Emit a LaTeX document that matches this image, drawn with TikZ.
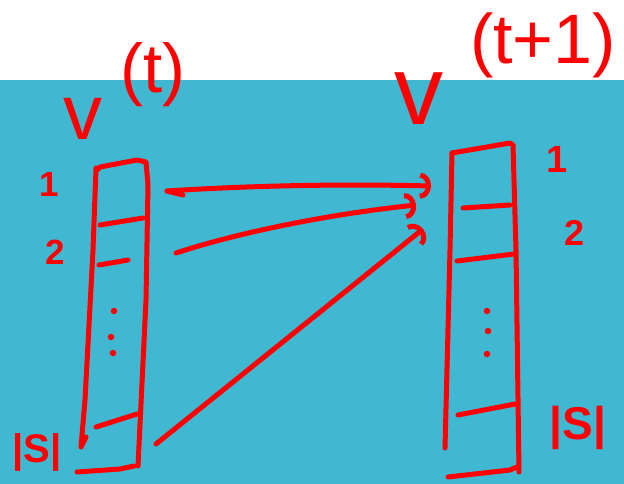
\documentclass[tikz,border=0pt]{standalone}
\usepackage{fontspec}
\setmainfont{Liberation Sans}
\usetikzlibrary{arrows.meta}
\definecolor{bgblue}{RGB}{65,184,209}
\definecolor{pen}{RGB}{255,0,0}
\begin{document}
\begin{tikzpicture}[x=1pt,y=-1pt,
  ink/.style={draw=pen,line width=5pt,line cap=round,line join=round},
  dotmark/.style={fill=pen,circle,inner sep=0pt,minimum size=6.5pt},
  lab/.style={text=pen,inner sep=0pt},
  conn/.style={ink,-{Arc Barb[length=11pt,width=26pt]}}]
\useasboundingbox (0,0) rectangle (624,484);
\fill[white] (0,0) rectangle (624,80);
\fill[bgblue] (0,80) rectangle (624,484);

% ---- headings
\node[lab,font=\fontsize{78}{78}\selectfont] (vl) at (83,119) {v};
\node[lab,font=\fontsize{69}{69}\selectfont] (tl) at (153,75) {(t)};
\node[lab,font=\fontsize{98}{98}\selectfont] (vr) at (419,99) {v};
\node[lab,font=\fontsize{70}{70}\selectfont] (tr) at (543,45) {(t+1)};

% ---- left vector
\draw[ink] (97,170) -- (100,167) -- (137,160) -- (146,162) -- (148,185) -- (146,300) -- (138,466);
\draw[ink] (96,168) -- (93,250) -- (85,400) -- (81,447) -- (86,437);
\draw[ink] (77,472) -- (120,469) -- (134,466);
\draw[ink] (100,225) -- (143,218);
\draw[ink] (99,265) -- (128,260);
\draw[ink] (96,427) -- (137,414);
\node[dotmark] (ld1) at (114,311) {};
\node[dotmark] (ld2) at (111,337) {};
\node[dotmark] (ld3) at (113,353) {};
\node[lab,font=\bfseries\fontsize{35}{35}\selectfont] (l1) at (49,184) {1};
\node[lab,font=\bfseries\fontsize{35}{35}\selectfont] (l2) at (55,252) {2};
\node[lab,font=\bfseries\fontsize{40}{40}\selectfont] (lS) at (37,452) {|S|};

% ---- right vector
\draw[ink] (452,153) -- (450,250) -- (445,448);
\draw[ink] (452,153) -- (510,143) -- (513,145) -- (516,250) -- (519,472);
\draw[ink] (448,477) -- (510,470) -- (517,467);
\draw[ink] (463,208) -- (510,205);
\draw[ink] (457,261) -- (514,254);
\draw[ink] (458,415) -- (515,404);
\node[dotmark] (rd1) at (487,311) {};
\node[dotmark] (rd2) at (488,331) {};
\node[dotmark] (rd3) at (487,354) {};
\node[lab,font=\bfseries\fontsize{38}{38}\selectfont] (r1) at (557,159) {1};
\node[lab,font=\bfseries\fontsize{36}{36}\selectfont] (r2) at (575,233) {2};
\node[lab,font=\bfseries\fontsize{46}{46}\selectfont] (rS) at (578,428) {|S|};

% ---- connectors
\coordinate (a1) at (167,191);
\coordinate (t1) at (183,195);
\coordinate (b1) at (431,186);
\coordinate (a2) at (176,253);
\coordinate (b2) at (416,205);
\coordinate (a3) at (156,444);
\coordinate (b3) at (423,229);
\draw[ink] (t1) -- (a1);
\draw[conn] (a1) .. controls (260,185) and (350,184) .. (b1);
\draw[conn] (a2) .. controls (240,232) and (330,214) .. (b2);
\draw[conn] (a3) -- (b3);
\end{tikzpicture}
\end{document}
